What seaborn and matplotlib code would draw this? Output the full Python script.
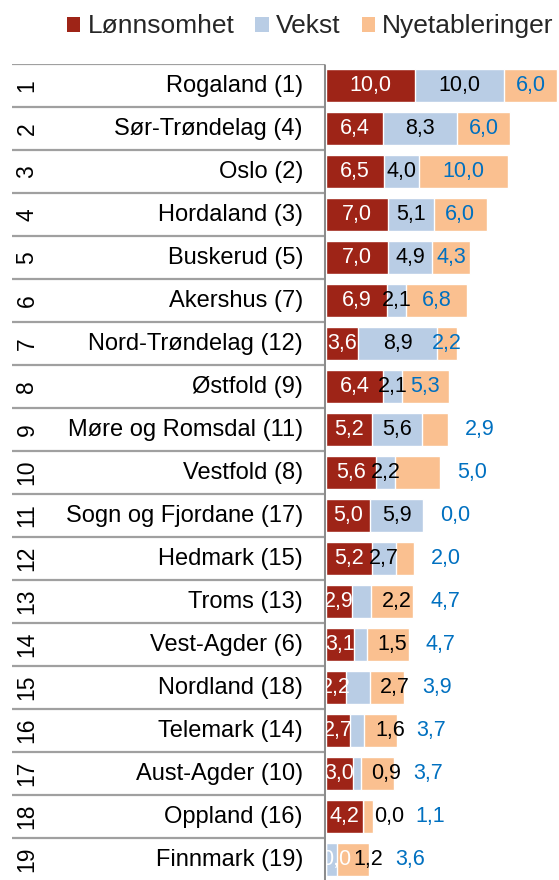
import matplotlib
matplotlib.use("Agg")
import matplotlib.pyplot as plt
from matplotlib.patches import Patch
import numpy as np
import pandas as pd
import seaborn as sns

# Fylker med rangering (plassering i fjor i parentes)
fylker = ["Rogaland (1)", "Sør-Trøndelag (4)", "Oslo (2)", "Hordaland (3)",
          "Buskerud (5)", "Akershus (7)", "Nord-Trøndelag (12)", "Østfold (9)",
          "Møre og Romsdal (11)", "Vestfold (8)", "Sogn og Fjordane (17)",
          "Hedmark (15)", "Troms (13)", "Vest-Agder (6)", "Nordland (18)",
          "Telemark (14)", "Aust-Agder (10)", "Oppland (16)", "Finnmark (19)"]
rangering = list(range(1, 20))
lonnsomhet = [10.0, 6.4, 6.5, 7.0, 7.0, 6.9, 3.6, 6.4, 5.2, 5.6, 5.0, 5.2,
              2.9, 3.1, 2.2, 2.7, 3.0, 4.2, 0.0]
vekst = [10.0, 8.3, 4.0, 5.1, 4.9, 2.1, 8.9, 2.1, 5.6, 2.2, 5.9, 2.7,
         2.2, 1.5, 2.7, 1.6, 0.9, 0.0, 1.2]
nyetableringer = [6.0, 6.0, 10.0, 6.0, 4.3, 6.8, 2.2, 5.3, 2.9, 5.0, 0.0, 2.0,
                  4.7, 4.7, 3.9, 3.7, 3.7, 1.1, 3.6]
serier = ["Lønnsomhet", "Vekst", "Nyetableringer"]

RED, BLUE, ORANGE, LABEL_BLUE = "#9E2417", "#B9CDE5", "#FAC090", "#0070C0"
FONT = "Liberation Sans"

sns.set_theme(style="white")
plt.rcParams["font.family"] = [FONT, "DejaVu Sans"]

df = pd.DataFrame({"fylke": fylker, "r": lonnsomhet, "v": vekst, "n": nyetableringer})
df["rv"] = df["r"] + df["v"]
df["total"] = df["rv"] + df["n"]

W, H = 559, 880
fig = plt.figure(figsize=(W / 100, H / 100), dpi=100)

top_px, row_px = 64, 43
n = len(fylker)
ax_h = n * row_px / H
ax_b = 1 - top_px / H - ax_h
split = 326 / W

# Stacked bars: draw cumulative totals back to front
ax = fig.add_axes([split, ax_b, 1 - split, ax_h])
bar_w = 0.77
sns.barplot(data=df, x="total", y="fylke", order=fylker, color=ORANGE,
            saturation=1, width=bar_w, errorbar=None, ax=ax)
sns.barplot(data=df, x="rv", y="fylke", order=fylker, color=BLUE,
            saturation=1, width=bar_w, errorbar=None, ax=ax)
sns.barplot(data=df, x="r", y="fylke", order=fylker, color=RED,
            saturation=1, width=bar_w, errorbar=None, ax=ax)
ax.set_xlim(0, 26.2)
ax.set_ylim(n - 0.5, -0.5)
ax.set_axis_off()

def fmt(v):
    return f"{v:.1f}".replace(".", ",")

lab_fs = 15.5
lab_w = 3.5  # approximate label width in data units
for i, row in df.iterrows():
    r, v, nv, rv, tot = row["r"], row["v"], row["n"], row["rv"], row["total"]
    rx = max(r / 2, 1.1)
    ax.text(rx, i, fmt(r), ha="center", va="center",
            color="white", fontsize=lab_fs)
    if i < 12:
        bx = r + v / 2
        ax.text(bx, i, fmt(v), ha="center", va="center", color="black", fontsize=lab_fs)
        b_end = bx + lab_w / 2
    else:
        bx = max(rv + 1.2, rx + lab_w / 2 + 0.2)
        ax.text(bx, i, fmt(v), ha="left", va="center", color="black", fontsize=lab_fs)
        b_end = bx + lab_w
    if i < 8:
        ax.text(rv + nv / 2, i, fmt(nv), ha="center", va="center",
                color=LABEL_BLUE, fontsize=lab_fs)
    else:
        ox = max(tot + 1.9, b_end + 1.2)
        ax.text(ox, i, fmt(nv), ha="left", va="center",
                color=LABEL_BLUE, fontsize=lab_fs)

# Table with ranking and county names
tab = fig.add_axes([0, ax_b, split, ax_h])
tab.set_xlim(0, 326)
tab.set_ylim(n - 0.5, -0.5)
tab.set_axis_off()
tab.hlines(np.arange(n + 1) - 0.5, 12, 325, color="#A0A0A0", lw=1.6)
tab.vlines(325, -0.5, n - 0.5, color="#8C8C8C", lw=2.2)
for i, (nr, navn) in enumerate(zip(rangering, fylker)):
    tab.text(27, i, str(nr), rotation=90, ha="center", va="center",
             fontsize=16.5, color="black")
    tab.text(303, i, navn, ha="right", va="center", fontsize=17, color="black")

handles = [Patch(facecolor=c, edgecolor="none") for c in (RED, BLUE, ORANGE)]
fig.legend(handles, serier, loc="center", bbox_to_anchor=(0.555, 0.970),
           ncol=3, frameon=False, fontsize=19, handlelength=0.5,
           handleheight=0.5, handletextpad=0.27, columnspacing=0.8,
           borderaxespad=0, borderpad=0)

fig.savefig("out.png", dpi=100)
